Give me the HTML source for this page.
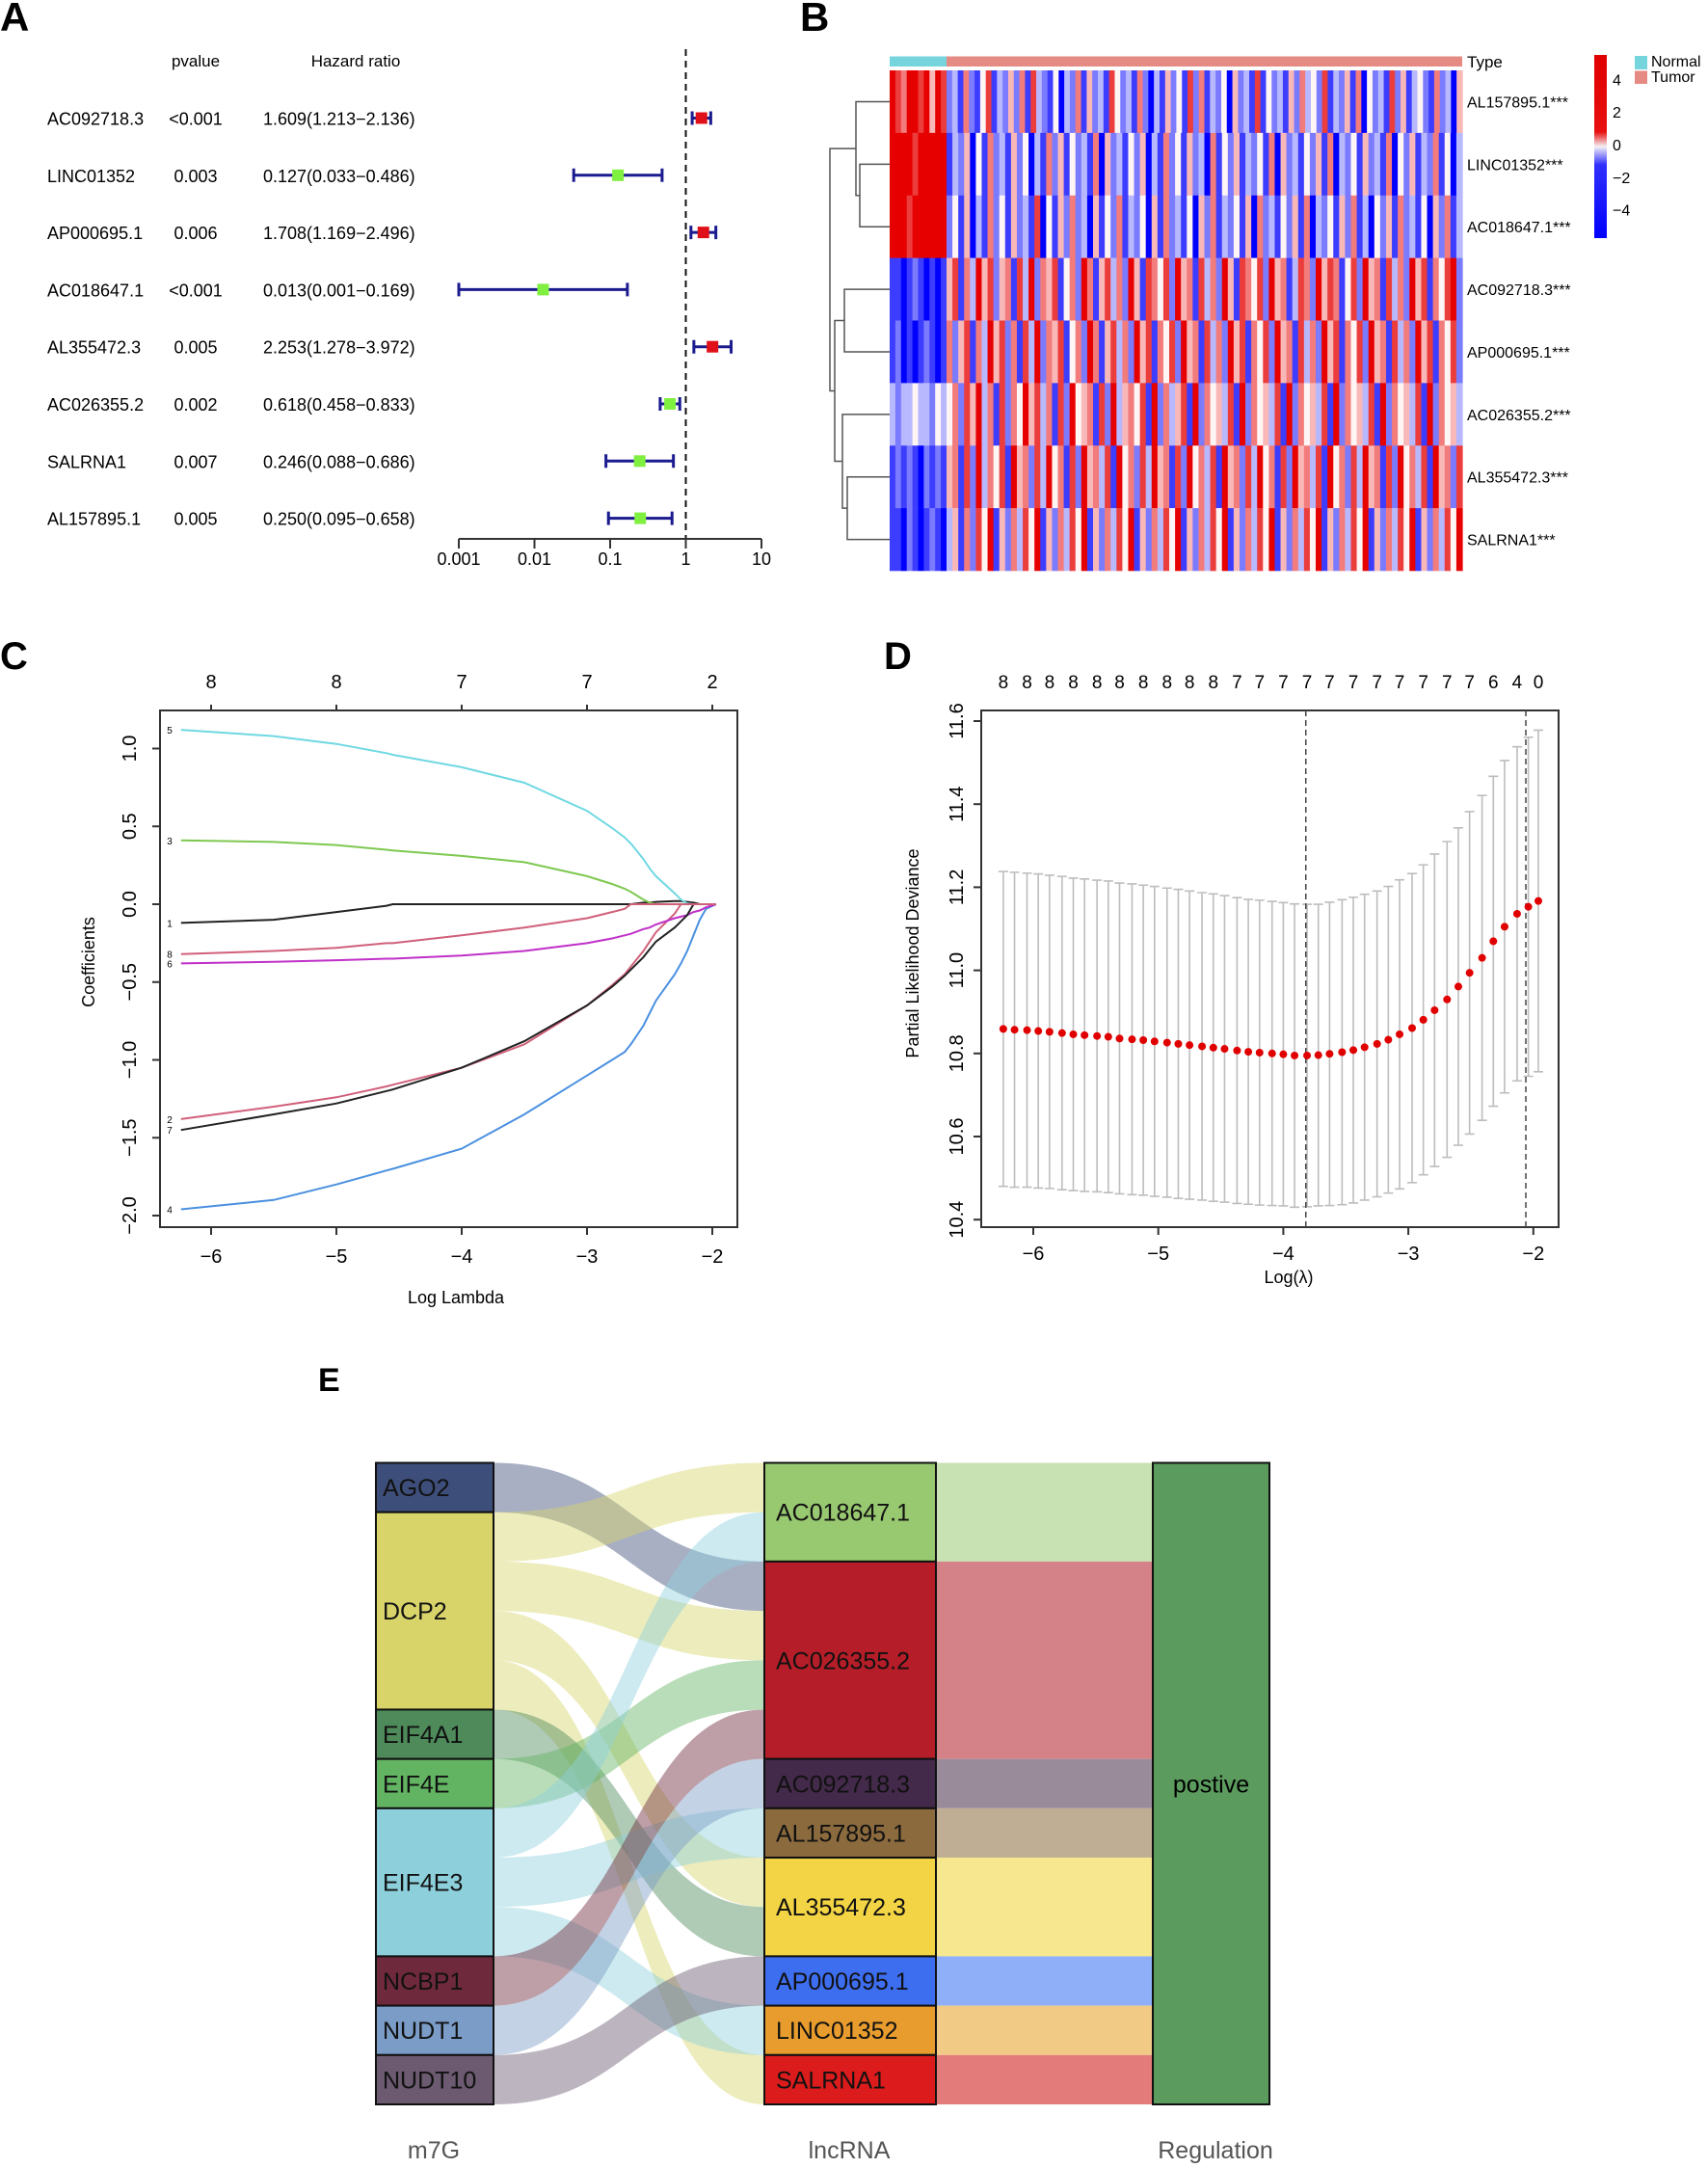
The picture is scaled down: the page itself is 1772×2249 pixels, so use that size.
<!DOCTYPE html>
<html><head><meta charset="utf-8">
<style>
html,body{margin:0;padding:0;background:#fff;}
svg{display:block;font-family:"Liberation Sans",Arial,sans-serif;}
</style></head>
<body>
<svg id="fig" width="1772" height="2249" viewBox="0 0 1772 2249" xmlns="http://www.w3.org/2000/svg">
<rect width="1772" height="2249" fill="#fff"/>
<g id="pa"></g>
<g id="pb"></g>
<g id="pc"></g>
<g id="pd"></g>
<g id="pe"></g>
</svg>
<script>
// ---------- Panel A data ----------
const genesA = ["AC092718.3","LINC01352","AP000695.1","AC018647.1","AL355472.3","AC026355.2","SALRNA1","AL157895.1"];
const pvalsA = ["<0.001","0.003","0.006","<0.001","0.005","0.002","0.007","0.005"];
const hrA = [1.609,0.127,1.708,0.013,2.253,0.618,0.246,0.250];
const hrLowA = [1.213,0.033,1.169,0.001,1.278,0.458,0.088,0.095];
const hrHighA = [2.136,0.486,2.496,0.169,3.972,0.833,0.686,0.658];
const ticksA = [0.001,0.01,0.1,1,10];
const tickLabelsA = ["0.001","0.01","0.1","1","10"];

// ---------- Panel B data ----------
const genesB = ["AL157895.1***","LINC01352***","AC018647.1***","AC092718.3***","AP000695.1***","AC026355.2***","AL355472.3***","SALRNA1***"];
const normalB = ["8768878587","8888788888","8887888888","1101210101","1201012101","3233433243","1212102121","1102101210"];
const tumorB = [
"23162147132526173214032615231742316203152417261324052317142315263427132516042317251342162305",
"1325041623152403162514231605231425031624152306142513241605231425160324152316042513261403",
"2415031624152317041526230514261324051623140526132415062314251603241526130425162314052613",
"5716385725617382657146286157362851764728561736285176472856137628576147285617362857164782",
"6257163857261738265714628615736285716472856173628571647285617362857164728561736285716472",
"4627583617264857361728456172835647182635718264537182645371826453718264537182645371826453",
"5617283647185627384617285637184627385617284637185627384617285637184627385617284637185627",
"3516274815263748152637481526374815263748152637481526374815263748152637481526374815263748"];
const cbarLabels = ["4","2","0","\u22122","\u22124"];
const cbarValues = [4,2,0,-2,-4];

// ---------- Panel C data ----------
const lamC = [-6.24,-5.5,-5,-4.6,-4.55,-4,-3.5,-3,-2.8,-2.7,-2.65,-2.55,-2.5,-2.45,-2.3,-2.25,-2.2,-2.15,-2.1,-2.05,-1.97];
const coefC = {
 c1:[-0.12,-0.10,-0.05,-0.01,0,0,0,0,0,0,0,0.01,0.01,0.015,0.02,0.02,0.015,0.01,0,0,0],
 c2:[-1.38,-1.30,-1.24,-1.17,-1.16,-1.05,-0.90,-0.65,-0.52,-0.45,-0.40,-0.30,-0.24,-0.18,-0.06,0,0,0,0,0,0],
 c3:[0.41,0.40,0.38,0.35,0.345,0.31,0.27,0.18,0.13,0.10,0.08,0.03,0.01,0,0,0,0,0,0,0,0],
 c4:[-1.96,-1.90,-1.80,-1.71,-1.70,-1.57,-1.35,-1.10,-1.00,-0.95,-0.90,-0.78,-0.70,-0.62,-0.45,-0.38,-0.30,-0.20,-0.10,-0.03,0],
 c5:[1.12,1.08,1.03,0.97,0.96,0.88,0.78,0.60,0.49,0.43,0.39,0.29,0.23,0.18,0.07,0.03,0.005,0,0,0,0],
 c6:[-0.38,-0.37,-0.36,-0.35,-0.35,-0.33,-0.30,-0.25,-0.22,-0.20,-0.19,-0.16,-0.15,-0.13,-0.09,-0.08,-0.07,-0.05,-0.04,-0.02,0],
 c7:[-1.45,-1.35,-1.28,-1.20,-1.19,-1.05,-0.88,-0.65,-0.53,-0.46,-0.42,-0.34,-0.29,-0.24,-0.15,-0.11,-0.07,0,0,0,0],
 c8:[-0.32,-0.30,-0.28,-0.25,-0.25,-0.20,-0.15,-0.09,-0.05,-0.03,0,0,0,0,0,0,0,0,0,0,0]
};
const colorsC = {c1:"#222222",c2:"#d0607a",c3:"#7ec850",c4:"#4a90e0",c5:"#70d8e2",c6:"#c030c8",c7:"#222222",c8:"#d0607a"};
const topTicksC = [-6,-5,-4,-3,-2];
const topLabelsC = ["8","8","7","7","2"];
const yTicksC = [1.0,0.5,0.0,-0.5,-1.0,-1.5,-2.0];

// ---------- Panel D data ----------
const lamD = [-6.24,-6.15,-6.05,-5.96,-5.87,-5.77,-5.68,-5.59,-5.49,-5.40,-5.31,-5.21,-5.12,-5.03,-4.93,-4.84,-4.75,-4.65,-4.56,-4.47,-4.37,-4.28,-4.19,-4.09,-4.00,-3.91,-3.81,-3.72,-3.63,-3.53,-3.44,-3.35,-3.25,-3.16,-3.07,-2.97,-2.88,-2.79,-2.69,-2.60,-2.51,-2.41,-2.32,-2.23,-2.13,-2.04,-1.96];
const devD = [10.859,10.857,10.856,10.854,10.852,10.849,10.846,10.844,10.842,10.840,10.836,10.834,10.832,10.829,10.826,10.823,10.820,10.817,10.814,10.811,10.807,10.804,10.802,10.800,10.798,10.795,10.795,10.796,10.799,10.803,10.808,10.815,10.823,10.833,10.846,10.861,10.881,10.904,10.930,10.961,10.994,11.030,11.070,11.105,11.136,11.153,11.167];
const seD = [0.379,0.379,0.378,0.378,0.377,0.377,0.376,0.376,0.375,0.375,0.374,0.374,0.373,0.373,0.372,0.372,0.371,0.370,0.370,0.369,0.368,0.367,0.367,0.366,0.365,0.365,0.364,0.363,0.365,0.367,0.368,0.368,0.368,0.369,0.372,0.372,0.373,0.376,0.380,0.382,0.388,0.391,0.397,0.400,0.402,0.408,0.411];
const countsD = ["8","8","8","8","8","8","8","8","8","8","7","7","7","7","7","7","7","7","7","7","7","6","4","0"];
const xTicksD = [-6,-5,-4,-3,-2];
const yTicksD = [10.4,10.6,10.8,11.0,11.2,11.4,11.6];
const vlinesD = [-3.82,-2.06];

// ---------- Panel E data ----------
const m7gNodes = ["AGO2","DCP2","EIF4A1","EIF4E","EIF4E3","NCBP1","NUDT1","NUDT10"];
const m7gSizes = [1,4,1,1,3,1,1,1];
const m7gColors = ["#3d4e7a","#d8d46a","#4e8a5a","#62b462","#8dd0dc","#6e2a3c","#7a9cc6","#6b5a70"];
const lncNodes = ["AC018647.1","AC026355.2","AC092718.3","AL157895.1","AL355472.3","AP000695.1","LINC01352","SALRNA1"];
const lncSizes = [2,4,1,1,2,1,1,1];
const lncColors = ["#98c870","#b51e28","#43294a","#8b6a3e","#f2d444","#3e6ef0","#e89c2e","#dc1c1c"];
const lncLight = ["#c9e2b4","#d48287","#9a8b9a","#bfae93","#f7e78e","#8fb0f8","#f1cb85","#e37b7b"];
// flows: left slot index -> right slot index (each flow 1 unit)
const flowFrom = [0,1,2,3,4,5,6,7,8,9,10,11,12];
const flowTo   = [2,0,3,8,12,9,4,1,7,11,5,6,10];
const flowSrcNode = [0,1,1,1,1,2,3,4,4,4,5,6,7];

const NS="http://www.w3.org/2000/svg";
function mk(tag, attrs, parent){const e=document.createElementNS(NS,tag);for(const k in attrs)e.setAttribute(k,attrs[k]);parent.appendChild(e);return e;}
function txt(s, attrs, parent){const e=mk("text",attrs,parent);e.textContent=s;return e;}

// ================= Panel A =================
(function(){
const g=document.getElementById("pa");
const xA=v=>476+(Math.log10(v)+3)*78.5;
const yA=i=>122.5+i*59.3;
let t=txt("A",{x:0,y:32,"font-size":42,"font-weight":"bold"},g);


t=txt("pvalue",{x:203,y:69,"font-size":17,"text-anchor":"middle"},g);


t=txt("Hazard ratio",{x:369,y:69,"font-size":17,"text-anchor":"middle"},g);


const dl=mk("line",{x1:xA(1),x2:xA(1),y1:51,y2:559,stroke:"#111","stroke-width":2,"stroke-dasharray":"7,5"},g);


genesA.forEach((gn,i)=>{
 const y=yA(i);
 let a=txt(gn,{x:49,y:y+7,"font-size":18},g);
 
 
 a=txt(pvalsA[i],{x:203,y:y+7,"font-size":18,"text-anchor":"middle"},g);
 
 
 a=txt(hrA[i].toFixed(3)+"("+hrLowA[i].toFixed(3)+"\u2212"+hrHighA[i].toFixed(3)+")",{x:273,y:y+7,"font-size":18},g);
 
 
 const x1=xA(hrLowA[i]),x2=xA(hrHighA[i]);
 const eb=mk("path",{d:`M${x1},${y}H${x2}M${x1},${y-7}V${y+7}M${x2},${y-7}V${y+7}`,stroke:"#1b1b8f","stroke-width":3,fill:"none"},g);
 
 
 const sq=mk("rect",{x:xA(hrA[i])-6,y:y-6,width:12,height:12,fill:hrA[i]>1?"#e0101a":"#80f040"},g);
 
 
});
const ax=mk("path",{d:`M${xA(0.001)},559H${xA(10)}`+ticksA.map(v=>`M${xA(v)},559V569`).join(""),stroke:"#333","stroke-width":2,fill:"none"},g);


ticksA.forEach((v,i)=>{
 const l=txt(tickLabelsA[i],{x:xA(v),y:586,"font-size":18,"text-anchor":"middle"},g);
 
 
});
})();

// ================= Panel B =================
(function(){
const g=document.getElementById("pb");
let t=txt("B",{x:830,y:32,"font-size":42,"font-weight":"bold"},g);


const X0=923,XN=982,X1=1517,Y0=73,RH=(592-73)/8;
function col(v){ // v in -4..4
 const f=Math.max(-1,Math.min(1,v/4));
 let r,gg,b;
 if(f>=0){r=255-Math.round(f*25);gg=Math.round(245*(1-f));b=Math.round(245*(1-f));}
 else{const a=-f;r=Math.round(245*(1-a));gg=Math.round(245*(1-a));b=255;}
 return `rgb(${r},${gg},${b})`;
}
let tb=mk("rect",{x:X0,y:58.5,width:XN-X0,height:10.5,fill:"#76d5dc"},g);


tb=mk("rect",{x:XN,y:58.5,width:X1-XN,height:10.5,fill:"#e68b84"},g);


t=txt("Type",{x:1522,y:70,"font-size":17},g);


genesB.forEach((gn,r)=>{
 const y=Y0+r*RH;
 const nv=normalB[r],tv=tumorB[r];
 const wn=(XN-X0)/nv.length, wt=(X1-XN)/tv.length;
 for(let i=0;i<nv.length;i++){
  const c=mk("rect",{x:X0+i*wn,y:y,width:wn+0.6,height:RH+0.3,fill:col(+nv[i]-4)},g);
  
  
 }
 for(let i=0;i<tv.length;i++){
  const c=mk("rect",{x:XN+i*wt,y:y,width:wt+0.6,height:RH+0.3,fill:col(+tv[i]-4)},g);
  
  
 }
 const l=txt(gn,{x:1522,y:y+RH/2+6,"font-size":16},g);
 
 
});
// dendrogram
const yc=r=>Y0+(r+0.5)*RH;
const dd=`M${X0},${yc(1)}H892V${yc(2)}H${X0}M892,${(yc(1)+yc(2))/2}H888V${yc(0)}H${X0}`+
`M${X0},${yc(3)}H876V${yc(4)}H${X0}M${X0},${yc(6)}H879V${yc(7)}H${X0}M879,${(yc(6)+yc(7))/2}H874V${yc(5)}H${X0}`+
`M876,${(yc(3)+yc(4))/2}H866V${(yc(5)+(yc(6)+yc(7))/2)/2}H874M866,${(yc(3)+yc(4)+yc(5)+(yc(6)+yc(7))/2)/4}H861V${(yc(0)+(yc(1)+yc(2))/2)/2}H888`;
const den=mk("path",{d:dd,stroke:"#555","stroke-width":1.5,fill:"none"},g);


// colorbar
const cb=mk("defs",{},g);
const lg=mk("linearGradient",{id:"cbg",x1:0,y1:0,x2:0,y2:1},cb);
mk("stop",{offset:"0",  "stop-color":"#e00000"},lg);
mk("stop",{offset:"0.42","stop-color":"#e81010"},lg);
mk("stop",{offset:"0.5","stop-color":"#f4f0f4"},lg);
mk("stop",{offset:"0.6","stop-color":"#3030ff"},lg);
mk("stop",{offset:"1","stop-color":"#0000ff"},lg);
const bar=mk("rect",{x:1654,y:57,width:13,height:190,fill:"url(#cbg)"},g);


const cy=v=>150-v*16.9;
cbarValues.forEach((v,i)=>{
 const l=txt(cbarLabels[i],{x:1673,y:cy(v)+6,"font-size":16},g);
 
 
});
let lgx=mk("rect",{x:1696,y:58,width:13,height:14,fill:"#76d5dc"},g);


lgx=mk("rect",{x:1696,y:73.5,width:13,height:13.5,fill:"#e68b84"},g);


t=txt("Normal",{x:1713,y:69,"font-size":16},g);


t=txt("Tumor",{x:1713,y:85,"font-size":16},g);


})();

// ================= Panel C =================
(function(){
const g=document.getElementById("pc");
const xC=v=>219+(v+6)*130;
const yC=v=>938-v*161.5;
let t=txt("C",{x:0,y:694,"font-size":40,"font-weight":"bold"},g);


const box=mk("rect",{x:166,y:737,width:599,height:536,fill:"none",stroke:"#333","stroke-width":2},g);


Object.keys(coefC).forEach(k=>{
 const d=coefC[k].map((v,i)=>(i?"L":"M")+xC(lamC[i]).toFixed(1)+","+yC(v).toFixed(1)).join("");
 const p=mk("path",{d:d,stroke:colorsC[k],"stroke-width":2,fill:"none"},g);
 
 
 const l=txt(k.slice(1),{x:176,y:yC(coefC[k][0])+4,"font-size":10,"text-anchor":"middle"},g);
 
 
});
topTicksC.forEach((v,i)=>{
 const tk=mk("line",{x1:xC(v),x2:xC(v),y1:737,y2:731,stroke:"#333","stroke-width":2},g);
 
 
 let l=txt(topLabelsC[i],{x:xC(v),y:714,"font-size":20,"text-anchor":"middle"},g);
 
 
 const bt=mk("line",{x1:xC(v),x2:xC(v),y1:1273,y2:1281,stroke:"#333","stroke-width":2},g);
 
 
 l=txt(String(v).replace("-","\u2212"),{x:xC(v),y:1310,"font-size":20,"text-anchor":"middle"},g);
 
 
});
yTicksC.forEach(v=>{
 const tk=mk("line",{x1:166,x2:158,y1:yC(v),y2:yC(v),stroke:"#333","stroke-width":2},g);
 
 
 const l=txt(v.toFixed(1).replace("-","\u2212"),{x:0,y:0,"font-size":20,"text-anchor":"middle",transform:`translate(141,${yC(v)}) rotate(-90)`},g);
 
 
});
t=txt("Log Lambda",{x:473,y:1352,"font-size":18,"text-anchor":"middle"},g);


t=txt("Coefficients",{x:0,y:0,"font-size":18,"text-anchor":"middle",transform:"translate(98,998) rotate(-90)"},g);


})();

// ================= Panel D =================
(function(){
const g=document.getElementById("pd");
const xD=v=>1072+(v+6)*129.7;
const yD=v=>748+(11.6-v)/0.2*86.2;
let t=txt("D",{x:917,y:694,"font-size":40,"font-weight":"bold"},g);


const box=mk("rect",{x:1018,y:737,width:599,height:536,fill:"none",stroke:"#333","stroke-width":2},g);


lamD.forEach((l,i)=>{
 const x=xD(l),yu=yD(devD[i]+seD[i]),yl=yD(devD[i]-seD[i]);
 const e=mk("path",{d:`M${x},${yu}V${yl}M${x-5},${yu}H${x+5}M${x-5},${yl}H${x+5}`,stroke:"#bdbdbd","stroke-width":1.6,fill:"none"},g);
 
 
});
vlinesD.forEach(v=>{
 const vl=mk("line",{x1:xD(v),x2:xD(v),y1:737,y2:1273,stroke:"#444","stroke-width":1.5,"stroke-dasharray":"6,4"},g);
 
 
});
lamD.forEach((l,i)=>{
 const c=mk("circle",{cx:xD(l),cy:yD(devD[i]),r:4,fill:"#e00000"},g);
 
 
});
countsD.forEach((s,i)=>{
 const l=txt(s,{x:xD(lamD[i*2]),y:714,"font-size":19,"text-anchor":"middle"},g);
 
 
});
xTicksD.forEach(v=>{
 const tk=mk("line",{x1:xD(v),x2:xD(v),y1:1273,y2:1281,stroke:"#333","stroke-width":2},g);
 
 
 const l=txt(String(v).replace("-","\u2212"),{x:xD(v),y:1307,"font-size":20,"text-anchor":"middle"},g);
 
 
});
yTicksD.forEach(v=>{
 const tk=mk("line",{x1:1018,x2:1010,y1:yD(v),y2:yD(v),stroke:"#333","stroke-width":2},g);
 
 
 const l=txt(v.toFixed(1),{x:0,y:0,"font-size":20,"text-anchor":"middle",transform:`translate(999,${yD(v)}) rotate(-90)`},g);
 
 
});
t=txt("Log(\u03bb)",{x:1337,y:1331,"font-size":18,"text-anchor":"middle"},g);


t=txt("Partial Likelihood Deviance",{x:0,y:0,"font-size":18,"text-anchor":"middle",transform:"translate(953,989) rotate(-90)"},g);


})();

// ================= Panel E =================
(function(){
const g=document.getElementById("pe");
const TOP=1517.5,U=665.5/13;
const LX0=390,LX1=512,MX0=793,MX1=971,RX0=1196,RX1=1317;
let t=txt("E",{x:330,y:1443,"font-size":34,"font-weight":"bold"},g);


// middle->right bands
let acc=0;
lncNodes.forEach((n,i)=>{
 const b=mk("rect",{x:MX1,y:TOP+acc*U,width:RX0-MX1+20,height:lncSizes[i]*U,fill:lncLight[i]},g);
 
 
 acc+=lncSizes[i];
});
// left->middle flows
const cx=(LX1+MX0)/2;
flowFrom.forEach((f,i)=>{
 const y0=TOP+f*U,y1=TOP+flowTo[i]*U;
 const d=`M${LX1},${y0}C${cx},${y0} ${cx},${y1} ${MX0},${y1}V${y1+U}C${cx},${y1+U} ${cx},${y0+U} ${LX1},${y0+U}Z`;
 const p=mk("path",{d:d,fill:m7gColors[flowSrcNode[i]],"fill-opacity":0.45},g);
 
 
});
// right node
const rn=mk("rect",{x:RX0,y:TOP,width:RX1-RX0,height:13*U,fill:"#5b9b5e",stroke:"#111","stroke-width":2},g);


t=txt("postive",{x:(RX0+RX1)/2,y:TOP+6.5*U+9,"font-size":25,"text-anchor":"middle"},g);


acc=0;
m7gNodes.forEach((n,i)=>{
 const y=TOP+acc*U,h=m7gSizes[i]*U;
 const r=mk("rect",{x:LX0,y:y,width:LX1-LX0,height:h,fill:m7gColors[i],stroke:"#111","stroke-width":2},g);
 
 
 const l=txt(n,{x:LX0+7,y:y+h/2+9,"font-size":25,fill:"#111"},g);
 
 
 acc+=m7gSizes[i];
});
acc=0;
lncNodes.forEach((n,i)=>{
 const y=TOP+acc*U,h=lncSizes[i]*U;
 const r=mk("rect",{x:MX0,y:y,width:MX1-MX0,height:h,fill:lncColors[i],stroke:"#111","stroke-width":2},g);
 
 
 const l=txt(n,{x:MX0+12,y:y+h/2+9,"font-size":25,fill:"#111"},g);
 
 
 acc+=lncSizes[i];
});
[["m7G",450],["lncRNA",881],["Regulation",1261]].forEach(a=>{
 const l=txt(a[0],{x:a[1],y:2239,"font-size":25,fill:"#555","text-anchor":"middle"},g);
 
 
});
})();
</script>
</body></html>
